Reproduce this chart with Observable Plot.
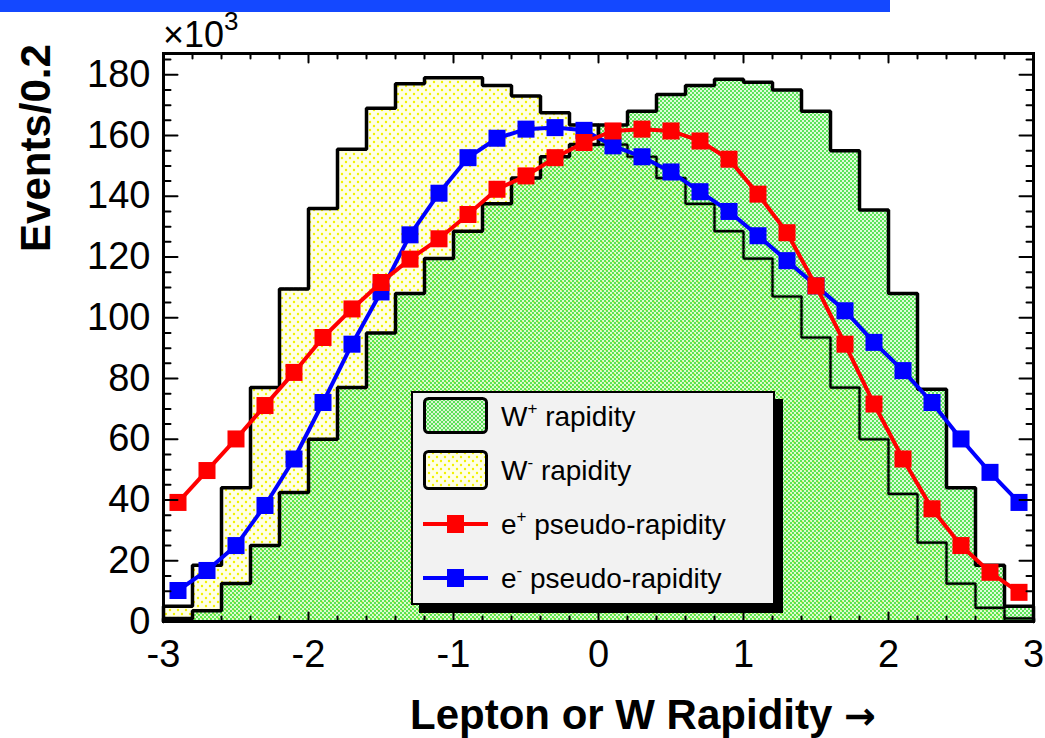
<!DOCTYPE html>
<html>
<head>
<meta charset="utf-8">
<script src="https://cdn.jsdelivr.net/npm/d3@7"></script>
<script src="https://cdn.jsdelivr.net/npm/@observablehq/plot@0.6"></script>
<style>
  body { margin: 0; background: #fff; font-family: "Liberation Sans", Arial, Helvetica, sans-serif; }
  #wrap { position: relative; width: 1045px; height: 738px; overflow: hidden; background: #fff; }
  #chart { position: absolute; left: 0; top: 0; }
  #overlay { position: absolute; left: 0; top: 0; pointer-events: none; }
</style>
</head>
<body>
<svg width="0" height="0" style="position:absolute">
  <defs>
    <pattern id="patYellow" patternUnits="userSpaceOnUse" width="8" height="8">
      <rect width="8" height="8" fill="#ffffe6"/>
      <circle cx="2" cy="2" r="1.2" fill="#f2f200"/>
      <circle cx="6" cy="6" r="1.2" fill="#f2f200"/>
    </pattern>
    <pattern id="patGreen" patternUnits="userSpaceOnUse" width="4" height="4">
      <rect width="4" height="4" fill="rgba(200,250,190,0.55)"/>
      <circle cx="1" cy="1" r="0.95" fill="#22d822"/>
      <circle cx="3" cy="3" r="0.95" fill="#22d822"/>
    </pattern>
  </defs>
</svg>
<div id="wrap">
  <div id="chart"></div>
  <svg id="overlay" width="1045" height="738" font-family="Liberation Sans, Arial, Helvetica, sans-serif">
    <rect x="0" y="0" width="890" height="12" fill="#1448ff"/>
    <text x="163" y="47" font-size="36" fill="#000">×10<tspan font-size="26" dy="-17">3</tspan></text>
    <text transform="translate(50,148) rotate(-90)" text-anchor="middle" font-size="42" font-weight="bold" fill="#000">Events/0.2</text>
    <text x="410" y="729" font-size="42" font-weight="bold" fill="#000">Lepton or W Rapidity <tspan font-family="DejaVu Sans" font-size="38">→</tspan></text>
    <g transform="translate(411,391)">
      <rect x="8" y="8" width="364" height="214" fill="#000"/>
      <rect x="1" y="1" width="362" height="212" fill="#f2f2f2" stroke="#000" stroke-width="2"/>
      <rect x="13.5" y="7.5" width="62" height="34" rx="4" fill="url(#patGreen)" stroke="#000" stroke-width="3"/>
      <text x="90" y="35" font-size="28" fill="#000">W<tspan font-size="17" dy="-12">+</tspan><tspan dy="12"> rapidity</tspan></text>
      <rect x="13.5" y="60.5" width="62" height="37" rx="4" fill="url(#patYellow)" stroke="#000" stroke-width="3"/>
      <text x="90" y="89" font-size="28" fill="#000">W<tspan font-size="17" dy="-12">-</tspan><tspan dy="12"> rapidity</tspan></text>
      <line x1="12" x2="77" y1="133" y2="133" stroke="#ff0000" stroke-width="4"/>
      <rect x="36" y="124" width="17" height="18" fill="#ff0000"/>
      <text x="90" y="143" font-size="28" fill="#000">e<tspan font-size="17" dy="-12">+</tspan><tspan dy="12"> pseudo-rapidity</tspan></text>
      <line x1="12" x2="77" y1="187" y2="187" stroke="#0000ff" stroke-width="4"/>
      <rect x="36" y="178" width="17" height="18" fill="#0000ff"/>
      <text x="90" y="197" font-size="28" fill="#000">e<tspan font-size="17" dy="-12">-</tspan><tspan dy="12"> pseudo-rapidity</tspan></text>
    </g>
  </svg>
</div>
<script>
// Bin centres (bin width 0.2) in rapidity
const etaCenters = [-2.9, -2.7, -2.5, -2.3, -2.1, -1.9, -1.7, -1.5, -1.3, -1.1,
                    -0.9, -0.7, -0.5, -0.3, -0.1, 0.1, 0.3, 0.5, 0.7, 0.9,
                    1.1, 1.3, 1.5, 1.7, 1.9, 2.1, 2.3, 2.5, 2.7, 2.9];
const binWidth = 0.2;

// Events/0.2 (x10^3)
const wPlus  = [1, 3.5, 12.5, 25, 42.5, 60, 77, 95, 108, 119.5,
                128.5, 137.5, 146, 153, 157, 163.5, 168, 173.5, 176.5, 178.5,
                177.5, 175, 168, 155, 135.5, 108, 76.5, 44, 18.5, 5];
const wMinus = [5, 18.5, 44, 77, 109.5, 136, 155.5, 169, 177, 179,
                179, 176.5, 173, 167.5, 163.5, 157, 153, 146, 137.5, 128.5,
                119.5, 107, 93.5, 77, 60, 42, 26, 12.5, 4.5, 1];
const ePlus  = [39.2, 49.7, 60.1, 71.1, 82, 93.5, 102.9, 111.6, 119.3, 126,
                134, 142.3, 146.7, 152.7, 157.7, 161.5, 162.1, 161.5, 158.2, 152.2,
                140.7, 128, 110.5, 91.3, 71.6, 53.5, 37.1, 25, 16.2, 9.6];
const eMinus = [10.2, 16.8, 25, 38.2, 53.5, 72.1, 91.3, 108.5, 127.3, 141,
                152.7, 159.1, 162.1, 162.6, 161.7, 156.6, 153, 148, 141.5, 135,
                127, 118.8, 110.5, 102.3, 91.9, 82.6, 72.1, 60.1, 49.1, 39.2];

const xTickLabels = [-3, -2, -1, 0, 1, 2, 3];
const yTickLabels = [0, 20, 40, 60, 80, 100, 120, 140, 160, 180];
const xMinorTicks = d3.range(-3, 3.001, 0.2).map(v => +v.toFixed(1)).filter(v => !xTickLabels.includes(v));
const yMinorTicks = d3.range(0, 186, 5).filter(v => !yTickLabels.includes(v));

function stepOutline(values) {
  const pts = [{x: etaCenters[0] - binWidth / 2, y: 0}];
  values.forEach((v, i) => {
    pts.push({x: etaCenters[i] - binWidth / 2, y: v});
    pts.push({x: etaCenters[i] + binWidth / 2, y: v});
  });
  pts.push({x: etaCenters[etaCenters.length - 1] + binWidth / 2, y: 0});
  return pts;
}
const wMinusStep = stepOutline(wMinus);
const wPlusStep = stepOutline(wPlus);
const ePlusRows = etaCenters.map((x, i) => ({eta: x, n: ePlus[i]}));
const eMinusRows = etaCenters.map((x, i) => ({eta: x, n: eMinus[i]}));

const tickShape = {draw(ctx, l) { ctx.moveTo(0, 0); ctx.lineTo(0, -l); }};
function ticksY(values, len) {
  return [
    Plot.vector(values, {y: d => d, frameAnchor: "left", length: len, rotate: 90, anchor: "start", shape: tickShape, stroke: "#000", strokeWidth: 2}),
    Plot.vector(values, {y: d => d, frameAnchor: "right", length: len, rotate: -90, anchor: "start", shape: tickShape, stroke: "#000", strokeWidth: 2})
  ];
}
function ticksX(values, len) {
  return [
    Plot.vector(values, {x: d => d, frameAnchor: "top", length: len, rotate: 180, anchor: "start", shape: tickShape, stroke: "#000", strokeWidth: 2}),
    Plot.vector(values, {x: d => d, frameAnchor: "bottom", length: len, rotate: 0, anchor: "start", shape: tickShape, stroke: "#000", strokeWidth: 2})
  ];
}

const chart = Plot.plot({
  width: 1045,
  height: 738,
  marginLeft: 163,
  marginRight: 12,
  marginTop: 53,
  marginBottom: 117,
  x: {domain: [-3, 3]},
  y: {domain: [0, 187]},
  style: {fontFamily: "Liberation Sans, Arial, Helvetica, sans-serif", background: "transparent", color: "#000"},
  marks: [
    Plot.areaY(wMinusStep, {x: "x", y1: 0, y2: "y", fill: "url(#patYellow)"}),
    Plot.line(wMinusStep, {x: "x", y: "y", stroke: "#000", strokeWidth: 3.5, strokeLinejoin: "miter"}),
    Plot.areaY(wPlusStep, {x: "x", y1: 0, y2: "y", fill: "url(#patGreen)"}),
    Plot.line(wMinusStep, {x: "x", y: "y", stroke: "#000", strokeWidth: 2.2, strokeDasharray: "3,1.5", strokeLinejoin: "miter"}),
    Plot.line(wPlusStep, {x: "x", y: "y", stroke: "#000", strokeWidth: 3.5, strokeLinejoin: "miter"}),
    Plot.line(eMinusRows, {x: "eta", y: "n", stroke: "#0000ff", strokeWidth: 4}),
    Plot.dot(eMinusRows, {x: "eta", y: "n", symbol: "square", r: 9.6, fill: "#0000ff"}),
    Plot.line(ePlusRows, {x: "eta", y: "n", stroke: "#ff0000", strokeWidth: 4}),
    Plot.dot(ePlusRows, {x: "eta", y: "n", symbol: "square", r: 9.6, fill: "#ff0000"}),
    ...ticksY(yTickLabels, 14),
    ...ticksY(yMinorTicks, 7),
    ...ticksX(xTickLabels, 9),
    ...ticksX(xMinorTicks, 5),
    Plot.frame({stroke: "#000", strokeWidth: 3}),
    Plot.axisY({ticks: yTickLabels, tickSize: 0, tickPadding: 13, fontSize: 38, label: null}),
    Plot.axisX({ticks: xTickLabels, tickSize: 0, tickPadding: 19, fontSize: 38, label: null, tickFormat: d => String(d)})
  ]
});
document.getElementById("chart").appendChild(chart);
</script>
</body>
</html>
